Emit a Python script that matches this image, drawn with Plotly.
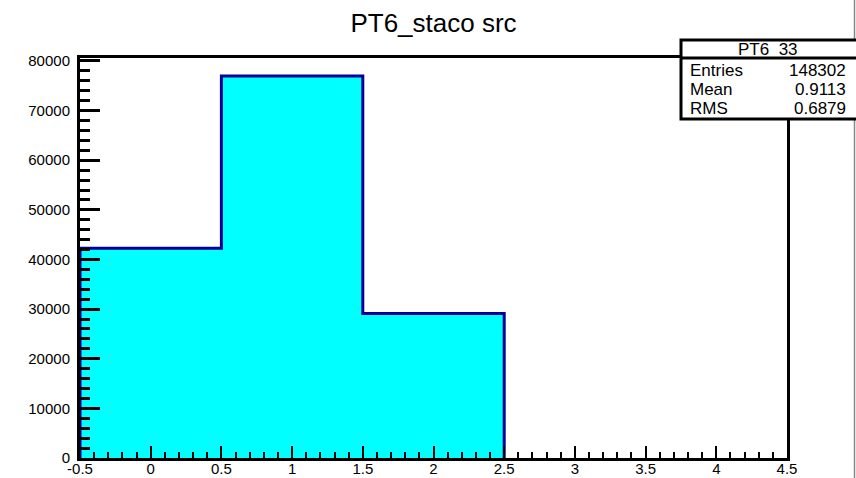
import plotly.graph_objects as go

# ---- data ----
bin_edges = [-0.5, 0.5, 1.5, 2.5]
bin_counts = [42252, 76952, 29098]
x_tick_vals = [-0.5, 0, 0.5, 1, 1.5, 2, 2.5, 3, 3.5, 4, 4.5]
x_tick_text = ["-0.5", "0", "0.5", "1", "1.5", "2", "2.5", "3", "3.5", "4", "4.5"]
y_tick_vals = [0, 10000, 20000, 30000, 40000, 50000, 60000, 70000, 80000]
y_tick_text = ["0", "10000", "20000", "30000", "40000", "50000", "60000", "70000", "80000"]
title_text = "PT6_staco src"
stats_name = "PT6_33"
stats_labels = ["Entries", "Mean", "RMS"]
stats_values = ["148302", "0.9113", "0.6879"]

W, H = 856, 478
L, R, T, B = 80, 69, 58, 20
PW, PH = W - L - R, H - T - B
X0, X1 = -0.5, 4.5
Y0, Y1 = 0, 80600

# step outline points
sx = [bin_edges[0]]
sy = [0]
for i, c in enumerate(bin_counts):
    sx.append(bin_edges[i])
    sy.append(c)
sx.append(bin_edges[-1]); sy.append(bin_counts[-1])
sx.append(bin_edges[-1]); sy.append(0)

fig = go.Figure()
fig.add_trace(go.Scatter(
    x=sx, y=sy, mode="lines", line=dict(shape="hv", color="#000099", width=3),
    fill="tozeroy", fillcolor="#00FFFF", hoverinfo="skip", showlegend=False))

def px2paper_x(p):
    return (p - L) / PW

def py2paper_y(p):
    return (H - B - p) / PH

FONT = "Liberation Sans, Arial, Helvetica, sans-serif"

fig.update_layout(
    width=W, height=H, margin=dict(l=L, r=R, t=T, b=B, pad=0, autoexpand=False),
    paper_bgcolor="white", plot_bgcolor="white",
    font=dict(family=FONT, color="black", size=15),
    title=dict(text=title_text, x=0.5, xref="paper", xanchor="center",
               y=1 - 23 / H, yref="container", yanchor="middle",
               font=dict(size=26, family=FONT, color="black")),
    showlegend=False,
)
fig.update_xaxes(
    range=[X0, X1], showgrid=False, zeroline=False, automargin=False,
    showline=True, linecolor="black", linewidth=3, mirror=True,
    ticks="inside", ticklen=12, tickwidth=2, tickcolor="black",
    tickvals=x_tick_vals, ticktext=x_tick_text,
    tickfont=dict(size=15, family=FONT),
    ticklabelstandoff=-5,
    minor=dict(ticks="inside", ticklen=6, tickwidth=2, tickcolor="black", dtick=0.1, showgrid=False),
)
fig.update_yaxes(
    range=[Y0, Y1], showgrid=False, zeroline=False, automargin=False,
    showline=True, linecolor="black", linewidth=3, mirror=True,
    ticks="inside", ticklen=20, tickwidth=3, tickcolor="black",
    tickvals=y_tick_vals, ticktext=y_tick_text,
    tickfont=dict(size=15, family=FONT),
    ticklabelstandoff=4,
    minor=dict(ticks="inside", ticklen=10, tickwidth=3, tickcolor="black", dtick=2000, showgrid=False),
)

shapes = []
# gray canvas edge line
shapes.append(dict(type="line", xref="paper", yref="paper",
                   x0=px2paper_x(854.5), x1=px2paper_x(854.5),
                   y0=py2paper_y(0), y1=py2paper_y(H),
                   line=dict(color="#888888", width=1.5), layer="above"))
# stats box
bx0, bx1, by0, by1, bdiv = 681, 860, 40, 119, 58
shapes.append(dict(type="rect", xref="paper", yref="paper",
                   x0=px2paper_x(bx0), x1=px2paper_x(bx1),
                   y0=py2paper_y(by1), y1=py2paper_y(by0),
                   fillcolor="white", line=dict(color="black", width=3), layer="above"))
shapes.append(dict(type="line", xref="paper", yref="paper",
                   x0=px2paper_x(bx0), x1=px2paper_x(bx1),
                   y0=py2paper_y(bdiv), y1=py2paper_y(bdiv),
                   line=dict(color="black", width=3), layer="above"))
fig.update_layout(shapes=shapes)

anns = [dict(text=stats_name, xref="paper", yref="paper",
             x=px2paper_x(768), y=py2paper_y(49.5), xanchor="center", yanchor="middle",
             showarrow=False, font=dict(size=17, family=FONT, color="black"))]
row_y = [70, 89.5, 108.5]
for lab, val, yy in zip(stats_labels, stats_values, row_y):
    anns.append(dict(text=lab, xref="paper", yref="paper",
                     x=px2paper_x(688), y=py2paper_y(yy), xanchor="left", yanchor="middle",
                     showarrow=False, font=dict(size=17, family=FONT, color="black")))
    anns.append(dict(text=val, xref="paper", yref="paper",
                     x=px2paper_x(848), y=py2paper_y(yy), xanchor="right", yanchor="middle",
                     showarrow=False, font=dict(size=17, family=FONT, color="black")))
fig.update_layout(annotations=anns)

fig.write_html(
    "out.html",
    config={"displayModeBar": False},
    post_script="document.body.style.margin='0';document.body.style.overflow='hidden';",
)
